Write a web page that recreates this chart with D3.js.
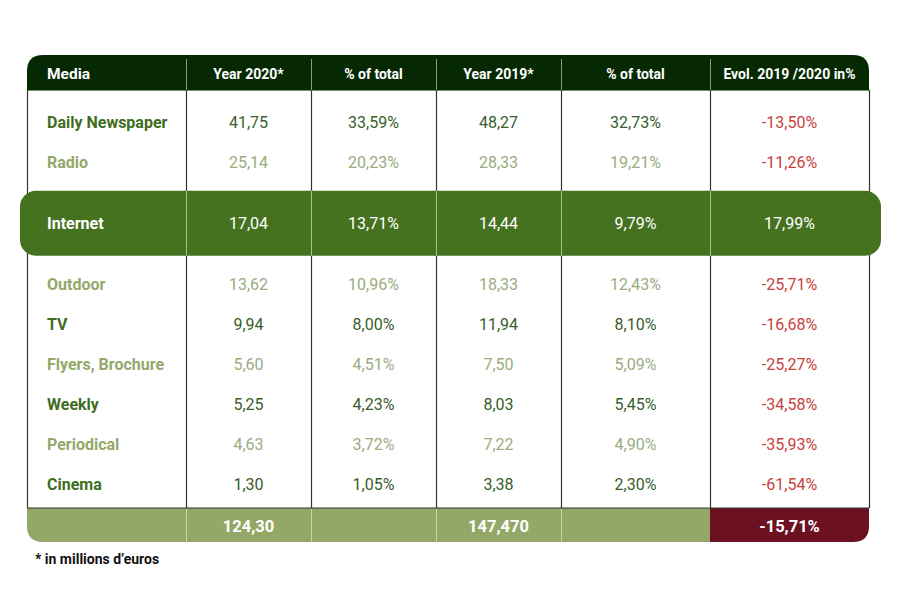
<!DOCTYPE html>
<html><head><meta charset="utf-8">
<script src="https://cdn.jsdelivr.net/npm/d3@7"></script>
<style>
html,body{margin:0;padding:0;background:#fff;}
svg{display:block;font-family:Roboto, "Noto Sans", sans-serif;}
</style></head>
<body>
<script>
// ---- data ----
const headers = ["Media", "Year 2020*", "% of total", "Year 2019*", "% of total", "Evol. 2019 /2020 in%"];
const media = ["Daily Newspaper", "Radio", "Internet", "Outdoor", "TV", "Flyers, Brochure", "Weekly", "Periodical", "Cinema"];
const year2020 = [41.75, 25.14, 17.04, 13.62, 9.94, 5.60, 5.25, 4.63, 1.30];
const pct2020 = [33.59, 20.23, 13.71, 10.96, 8.00, 4.51, 4.23, 3.72, 1.05];
const year2019 = [48.27, 28.33, 14.44, 18.33, 11.94, 7.50, 8.03, 7.22, 3.38];
const pct2019 = [32.73, 19.21, 9.79, 12.43, 8.10, 5.09, 5.45, 4.90, 2.30];
const evolution = [-13.50, -11.26, 17.99, -25.71, -16.68, -25.27, -34.58, -35.93, -61.54];
const highlight = "Internet";
const totals = {year2020: 124.30, year2019: 147.470, evolution: -15.71};
const footnote = "* in millions d\u2019euros";

// ---- layout ----
const W = 900, H = 601;
const colEdges = [27, 186, 311, 436, 561, 710, 869];
const headerTop = 55, headerBottom = 90, footerTop = 508, footerBottom = 542;
const R = 16;

const fmt = (v, d = 2) => v.toFixed(d).replace(".", ",");
const fmtPct = v => fmt(v) + "%";

const svg = d3.select("body").append("svg").attr("width", W).attr("height", H);

// row slots: highlight gets double height
const units = media.map(m => m === highlight ? 2.05 : 1);
const starts = [];
units.reduce((acc, u, i) => { starts[i] = acc; return acc + u; }, 0);
const totalUnits = d3.sum(units);
const y = d3.scaleLinear().domain([0, totalUnits]).range([102, 503]);
const colCenter = i => (colEdges[i] + colEdges[i + 1]) / 2;

const rows = media.map((m, i) => ({
  m, i,
  cells: [m, fmt(year2020[i]), fmtPct(pct2020[i]), fmt(year2019[i]), fmtPct(pct2019[i]), fmtPct(evolution[i])],
  cy: y(starts[i] + units[i] / 2) + 1,
  hl: m === highlight,
  dark: i % 2 === 0
}));

const C = {
  header: "#062904",
  line: "#333333",
  darkLabel: "#3f6d1f",
  darkVal: "#37602a",
  lightLabel: "#93a86a",
  lightVal: "#9aab80",
  red: "#c8413c",
  band: "#44721f",
  footer: "#93a866",
  footerRed: "#6c1121"
};

// header with rounded top corners
const x0 = colEdges[0], x1 = colEdges[6];
svg.append("path")
  .attr("d", `M${x0},${headerBottom} V${headerTop + R} Q${x0},${headerTop} ${x0 + R},${headerTop} H${x1 - R} Q${x1},${headerTop} ${x1},${headerTop + R} V${headerBottom} Z`)
  .attr("fill", C.header);
svg.append("line").attr("x1", x0).attr("x2", x1).attr("y1", headerBottom + 0.5).attr("y2", headerBottom + 0.5)
  .attr("stroke", "#7a8a70").attr("stroke-width", 1);

// header dividers
svg.selectAll(".hdiv").data(colEdges.slice(1, 6)).join("line")
  .attr("x1", d => d + 0.5).attr("x2", d => d + 0.5)
  .attr("y1", headerTop + 4).attr("y2", headerBottom)
  .attr("stroke", "#8a9a80").attr("stroke-width", 1);

// header text
svg.selectAll(".htxt").data(headers).join("text")
  .attr("x", (d, i) => i === 0 ? 47 : colCenter(i))
  .attr("y", (headerTop + headerBottom) / 2 + 1)
  .attr("text-anchor", (d, i) => i === 0 ? "start" : "middle")
  .attr("dominant-baseline", "central")
  .attr("fill", "#ffffff")
  .attr("font-weight", 700)
  .attr("font-size", (d, i) => i === 0 ? 15.5 : 14)
  .text(d => d);

// body vertical lines
svg.selectAll(".bdiv").data(colEdges).join("line")
  .attr("x1", d => d + 0.5).attr("x2", d => d + 0.5)
  .attr("y1", headerBottom).attr("y2", footerTop)
  .attr("stroke", C.line).attr("stroke-width", 1.2);

// highlight band
const hl = rows.filter(r => r.hl);
svg.selectAll(".band").data(hl).join("rect")
  .attr("x", 20).attr("width", 861)
  .attr("y", r => r.cy - 33).attr("height", 65)
  .attr("rx", R).attr("ry", R)
  .attr("fill", C.band);
hl.forEach(r => {
  svg.selectAll(null).data(colEdges.slice(1, 6)).join("line")
    .attr("x1", d => d + 0.5).attr("x2", d => d + 0.5)
    .attr("y1", r.cy - 33).attr("y2", r.cy + 32)
    .attr("stroke", "#a8bf90").attr("stroke-width", 1);
});

// cells
const g = svg.selectAll(".row").data(rows).join("g");
g.selectAll("text").data(r => r.cells.map((c, j) => ({c, j, r}))).join("text")
  .attr("x", d => d.j === 0 ? 47 : colCenter(d.j))
  .attr("y", d => d.r.cy)
  .attr("text-anchor", d => d.j === 0 ? "start" : "middle")
  .attr("dominant-baseline", "central")
  .attr("font-size", 16)
  .attr("font-weight", d => d.j === 0 ? 700 : 400)
  .attr("fill", d => {
    if (d.r.hl) return "#ffffff";
    if (d.j === 5) return C.red;
    if (d.j === 0) return d.r.dark ? C.darkLabel : C.lightLabel;
    return d.r.dark ? C.darkVal : C.lightVal;
  })
  .text(d => d.c);

// footer
const fx5 = colEdges[5];
svg.append("path")
  .attr("d", `M${x0},${footerTop} H${fx5} V${footerBottom} H${x0 + R} Q${x0},${footerBottom} ${x0},${footerBottom - R} Z`)
  .attr("fill", C.footer);
svg.append("path")
  .attr("d", `M${fx5},${footerTop} H${x1} V${footerBottom - R} Q${x1},${footerBottom} ${x1 - R},${footerBottom} H${fx5} Z`)
  .attr("fill", C.footerRed);
svg.append("line").attr("x1", x0).attr("x2", x1).attr("y1", footerTop).attr("y2", footerTop)
  .attr("stroke", C.line).attr("stroke-width", 1.2);
svg.selectAll(".fdiv").data(colEdges.slice(1, 5)).join("line")
  .attr("x1", d => d + 0.5).attr("x2", d => d + 0.5)
  .attr("y1", footerTop + 1).attr("y2", footerBottom)
  .attr("stroke", "#c8d4b0").attr("stroke-width", 1);

const footCells = [
  {j: 1, t: fmt(totals.year2020)},
  {j: 3, t: fmt(totals.year2019, 3)},
  {j: 5, t: fmtPct(totals.evolution)}
];
svg.selectAll(".ftxt").data(footCells).join("text")
  .attr("x", d => colCenter(d.j))
  .attr("y", (footerTop + footerBottom) / 2 + 1)
  .attr("text-anchor", "middle")
  .attr("dominant-baseline", "central")
  .attr("font-size", 16.5).attr("font-weight", 700)
  .attr("fill", "#ffffff")
  .text(d => d.t);

// footnote
svg.append("text").attr("x", 35).attr("y", 559)
  .attr("dominant-baseline", "central")
  .attr("font-size", 14).attr("font-weight", 700).attr("fill", "#111")
  .text(footnote);
</script>
</body></html>
